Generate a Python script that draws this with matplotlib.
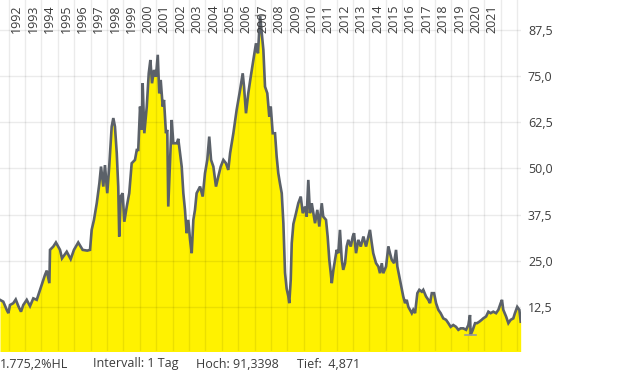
import matplotlib
matplotlib.use("Agg")
import matplotlib.pyplot as plt
from matplotlib.ticker import FuncFormatter, FixedLocator

# ---- data (decimal years, price) ----
dates = [
    1991.48, 1991.68, 1991.89, 1991.99, 1992.09, 1992.29, 1992.44, 1992.60, 1992.76, 1992.90,
    1993.11, 1993.31, 1993.51, 1993.72, 1993.92, 1994.08, 1994.22, 1994.33, 1994.49, 1994.53,
    1994.73, 1994.89, 1995.14, 1995.26, 1995.55, 1995.79, 1995.99, 1996.25, 1996.52, 1996.80,
    1996.97, 1997.07, 1997.21, 1997.38, 1997.54, 1997.64, 1997.78, 1997.88, 1998.02, 1998.14,
    1998.29, 1998.39, 1998.49, 1998.60, 1998.69, 1998.75, 1998.84, 1998.96, 1999.06, 1999.21,
    1999.36, 1999.51, 1999.71, 1999.82, 1999.91, 2000.02, 2000.12, 2000.18, 2000.28, 2000.43,
    2000.55, 2000.65, 2000.75, 2000.87, 2000.99, 2001.10, 2001.19, 2001.28, 2001.40, 2001.48,
    2001.60, 2001.68, 2001.74, 2001.85, 2001.95, 2002.05, 2002.26, 2002.35, 2002.56, 2002.66,
    2002.76, 2002.86, 2002.96, 2003.07, 2003.17, 2003.27, 2003.37, 2003.47, 2003.68, 2003.84,
    2003.98, 2004.12, 2004.24, 2004.35, 2004.49, 2004.65, 2004.79, 2004.94, 2005.10, 2005.26,
    2005.40, 2005.51, 2005.71, 2005.91, 2006.12, 2006.28, 2006.36, 2006.48, 2006.62, 2006.77,
    2006.93, 2007.09, 2007.21, 2007.34, 2007.44, 2007.54, 2007.64, 2007.78, 2007.90, 2007.99,
    2008.11, 2008.25, 2008.35, 2008.45, 2008.55, 2008.66, 2008.76, 2008.86, 2008.96, 2009.06,
    2009.12, 2009.21, 2009.27, 2009.37, 2009.53, 2009.67, 2009.82, 2009.94, 2010.08, 2010.18,
    2010.28, 2010.38, 2010.49, 2010.59, 2010.69, 2010.83, 2010.95, 2011.10, 2011.19, 2011.36,
    2011.46, 2011.56, 2011.65, 2011.71, 2011.81, 2011.91, 2012.01, 2012.11, 2012.21, 2012.32,
    2012.41, 2012.52, 2012.62, 2012.72, 2012.87, 2012.99, 2013.07, 2013.19, 2013.33, 2013.48,
    2013.64, 2013.80, 2013.94, 2014.04, 2014.15, 2014.24, 2014.41, 2014.55, 2014.65, 2014.76,
    2014.85, 2015.02, 2015.16, 2015.26, 2015.37, 2015.51, 2015.63, 2015.71, 2015.83, 2015.98,
    2016.07, 2016.18, 2016.28, 2016.38, 2016.48, 2016.59, 2016.68, 2016.79, 2016.93, 2017.05,
    2017.20, 2017.29, 2017.46, 2017.60, 2017.70, 2017.81, 2017.95, 2018.07, 2018.21, 2018.35,
    2018.51, 2018.68, 2018.82, 2018.96, 2019.12, 2019.29, 2019.43, 2019.57, 2019.73, 2019.90,
    2020.04, 2020.14, 2020.18, 2020.31, 2020.45, 2020.57, 2020.71, 2020.85, 2020.95, 2021.12,
    2021.26, 2021.40, 2021.56, 2021.73, 2021.87, 2022.01, 2022.09, 2022.17, 2022.34, 2022.48,
    2022.62, 2022.78, 2022.88, 2023.02, 2023.15, 2023.23,
]
prices = [
    14.5, 14.0, 11.8, 10.9, 13.1, 13.6, 14.6, 12.8, 11.3, 13.1,
    14.5, 12.8, 14.9, 14.5, 17.2, 19.4, 21.2, 22.4, 19.0, 28.0,
    28.9, 30.0, 28.0, 25.7, 27.5, 25.5, 28.0, 30.0, 28.0, 27.8,
    28.0, 33.4, 36.1, 40.6, 46.0, 50.5, 45.1, 50.9, 43.3, 50.5,
    61.3, 63.6, 61.3, 54.1, 45.1, 31.6, 42.4, 43.3, 35.6, 39.7,
    43.3, 51.4, 52.3, 55.0, 55.0, 66.7, 60.4, 73.0, 59.5, 66.7,
    75.7, 79.3, 73.0, 76.6, 74.8, 80.7, 70.3, 73.9, 66.7, 68.5,
    59.5, 60.4, 39.7, 52.0, 63.1, 56.8, 56.8, 58.0, 50.5, 43.3,
    38.8, 32.5, 36.1, 30.7, 27.1, 36.1, 38.8, 43.3, 45.1, 42.4,
    48.7, 52.3, 58.6, 52.3, 50.5, 45.1, 47.8, 50.5, 52.3, 51.4,
    49.6, 54.1, 59.5, 65.8, 71.2, 75.7, 72.1, 64.9, 70.3, 74.8,
    79.3, 83.8, 81.1, 91.3, 86.5, 82.0, 72.1, 70.3, 64.0, 66.7,
    59.5, 59.5, 53.2, 48.7, 46.0, 43.3, 35.2, 21.8, 17.5, 15.5,
    13.6, 20.0, 29.8, 35.0, 37.9, 40.6, 42.4, 37.9, 39.7, 37.0,
    46.9, 37.9, 40.6, 37.9, 35.2, 38.8, 34.3, 40.6, 37.0, 36.1,
    31.6, 25.3, 21.7, 19.0, 22.6, 25.3, 28.0, 27.1, 33.4, 25.3,
    22.6, 24.4, 28.9, 30.7, 28.9, 31.6, 32.5, 27.1, 30.7, 28.9,
    31.6, 28.9, 31.6, 33.4, 29.8, 27.1, 24.4, 23.5, 21.7, 24.4,
    21.7, 23.5, 28.9, 27.1, 25.3, 24.4, 28.0, 23.5, 20.8, 17.5,
    15.4, 13.6, 14.5, 12.6, 11.8, 10.9, 11.8, 10.9, 16.3, 17.2,
    16.7, 17.2, 15.4, 14.5, 13.6, 16.3, 16.3, 13.6, 11.8, 10.9,
    9.5, 9.1, 8.2, 7.2, 7.7, 7.2, 6.4, 6.8, 6.8, 6.4,
    7.7, 10.4, 5.0, 6.4, 8.2, 8.2, 8.6, 9.1, 9.5, 10.0,
    11.3, 10.9, 11.3, 10.9, 11.8, 13.6, 14.5, 11.8, 10.0, 8.2,
    9.1, 9.5, 10.9, 12.6, 11.8, 8.6,
]
years = list(range(1992, 2022))
grid_years = list(range(1992, 2024))
y_ticks = [12.5, 25.0, 37.5, 50.0, 62.5, 75.0, 87.5]
high_value = 91.3398
low_value = 4.871
footer = ["1.775,2%HL", "Intervall: 1 Tag", "Hoch: 91,3398", "Tief:  4,871"]

plt.rcParams['font.family'] = ['Open Sans', 'DejaVu Sans']
TXT = '#3c3c3c'

fig = plt.figure(figsize=(6.2, 3.72), dpi=100)
W, H = 620, 372
ax = fig.add_axes([0, (372 - 351) / H, 521 / W, 351 / H])

ax.set_xlim(1991.48, 2023.25)
ax.set_ylim(0.68, 95.5)

ax.fill_between(dates, prices, 0, color='#fff200', lw=0, zorder=1)

# grid drawn over the fill, translucent
for g in grid_years:
    ax.axvline(g, color='black', alpha=0.08, lw=1, zorder=2)
for t in y_ticks:
    ax.axhline(t, color='black', alpha=0.08, lw=1, zorder=2)

ax.plot(dates, prices, color='#5b6169', lw=1.9, zorder=3, solid_joinstyle='miter')

# high / low markers
i_hi = prices.index(max(prices))
i_lo = prices.index(min(prices))
ax.plot([dates[i_hi] - 0.3, dates[i_hi] + 0.3], [high_value, high_value], color='#9a9a9a', lw=1, zorder=4)
ax.plot([dates[i_lo] - 0.33, dates[i_lo] + 0.33], [low_value, low_value], color='#9a9a9a', lw=1.2, zorder=4)

ax.xaxis.set_major_locator(FixedLocator(grid_years))
ax.yaxis.set_major_locator(FixedLocator(y_ticks))
ax.tick_params(axis='x', length=0, labelbottom=False)
ax.yaxis.tick_right()
ax.tick_params(axis='y', length=0, pad=5, labelsize=9, labelcolor=TXT)
ax.yaxis.set_major_formatter(FuncFormatter(lambda v, p: f"{v:.1f}".replace('.', ',')))
for s in ax.spines.values():
    s.set_visible(False)

# year labels at top
for y in years:
    ax.text(y + 0.5, 1 - 33 / 351, str(y), rotation=90, ha='center', va='bottom',
            fontsize=9, color=TXT, transform=ax.get_xaxis_transform(), zorder=5)

# footer
xs = [0, 93, 196, 297]
for x, t in zip(xs, footer):
    fig.text(x / W, 1 - 364 / H, t, ha='left', va='center', fontsize=9, color=TXT)

fig.savefig('out.png', dpi=100)
